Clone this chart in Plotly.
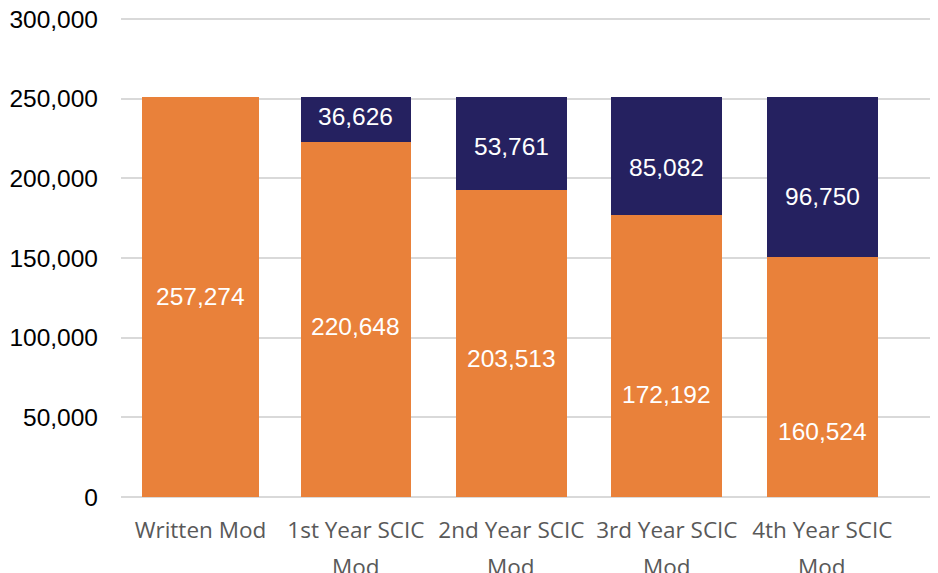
import plotly.graph_objects as go

# ---- data ----
categories = ["Written Mod", "1st Year SCIC Mod", "2nd Year SCIC Mod",
              "3rd Year SCIC Mod", "4th Year SCIC Mod"]
orange_values = [251400, 222800, 193000, 176800, 150600]
navy_values = [0, 28200, 58000, 74200, 100400]
orange_labels = ["257,274", "220,648", "203,513", "172,192", "160,524"]
navy_labels = [None, "36,626", "53,761", "85,082", "96,750"]
y_tickvals = [0, 50000, 100000, 150000, 200000, 250000, 300000]
y_ticktext = ["0", "50,000", "100,000", "150,000", "200,000", "250,000", "300,000"]

# ---- styling / placement ----
ORANGE = "#E9813A"
NAVY = "#252160"
bar_widths = [0.748, 0.712, 0.712, 0.712, 0.712]
orange_label_pos = [125600, 107000, 86800, 64500, 41300]
navy_label_pos = [None, 239000, 220300, 206700, 188600]

first_lines, second_lines = [], []
for c in categories:
    if c.endswith(" Mod") and "SCIC" in c:
        first_lines.append(c[:-4])
        second_lines.append("Mod")
    else:
        first_lines.append(c)
        second_lines.append(None)

fig = go.Figure()
fig.add_trace(go.Bar(x=categories, y=orange_values, width=bar_widths,
                     marker=dict(color=ORANGE, line=dict(width=0)),
                     hoverinfo="skip", showlegend=False))
fig.add_trace(go.Bar(x=categories, y=navy_values, width=bar_widths,
                     marker=dict(color=NAVY, line=dict(width=0)),
                     hoverinfo="skip", showlegend=False))

annotations = []
label_font = dict(family="Liberation Sans, Arial", size=24.5, color="white")
for c, lab, pos in zip(categories, orange_labels, orange_label_pos):
    annotations.append(dict(x=c, y=pos, xref="x", yref="y", text=lab,
                            showarrow=False, font=label_font))
for c, lab, pos in zip(categories, navy_labels, navy_label_pos):
    if lab:
        annotations.append(dict(x=c, y=pos, xref="x", yref="y", text=lab,
                                showarrow=False, font=label_font))
for c, line2 in zip(categories, second_lines):
    if line2:
        annotations.append(dict(x=c, y=0, xref="x", yref="paper", yanchor="middle",
                                yshift=-69, text=line2, showarrow=False,
                                font=dict(family="Open Sans", size=22.5, color="#595959")))

# the page body adds an 8px offset, so the figure is 8px smaller in each direction
fig.update_layout(
    width=930, height=565,
    margin=dict(l=113, r=3, t=9, b=76, autoexpand=False),
    paper_bgcolor="white", plot_bgcolor="white",
    barmode="stack",
    annotations=annotations,
    xaxis=dict(type="category", range=[-0.511, 4.725], tickmode="array",
               tickvals=categories, ticktext=first_lines,
               tickfont=dict(family="Open Sans", size=22.5, color="#595959"),
               showgrid=False, zeroline=False, showline=False, ticks="",
               ticklabelstandoff=17, automargin=False),
    yaxis=dict(range=[0, 301300], tickmode="array", tickvals=y_tickvals,
               ticktext=y_ticktext,
               tickfont=dict(family="Liberation Sans, Arial", size=24.5, color="black"),
               showgrid=True, gridcolor="#D9D9D9", gridwidth=2,
               zeroline=True, zerolinecolor="#D9D9D9", zerolinewidth=2,
               showline=False, ticks="", ticklabelstandoff=22, automargin=False,
               ticklabeloverflow="allow"),
)

fig.write_html("out.html")
